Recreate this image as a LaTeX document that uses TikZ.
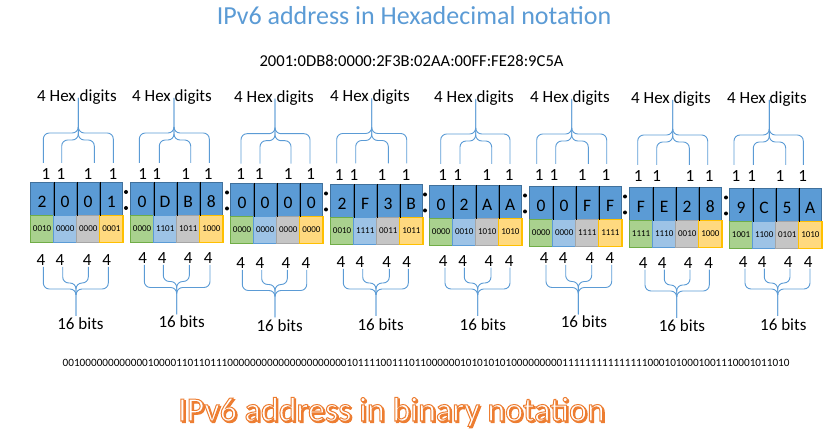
\documentclass[tikz,border=0pt]{standalone}
\usepackage{fontspec}
\setmainfont{Carlito}
\definecolor{titleblue}{HTML}{5B9BD5}
\definecolor{hexblue}{HTML}{5B9BD5}
\definecolor{hexborder}{HTML}{41719C}
\definecolor{braceblue}{HTML}{5B9BD5}
\definecolor{gfill}{HTML}{A9D18E}
\definecolor{gdraw}{HTML}{70AD47}
\definecolor{bfill}{HTML}{9DC3E6}
\definecolor{bdraw}{HTML}{5B9BD5}
\definecolor{sfill}{HTML}{C5C5C5}
\definecolor{sdraw}{HTML}{A5A5A5}
\definecolor{yfill}{HTML}{FFD97F}
\definecolor{ydraw}{HTML}{FFC000}
\definecolor{orangetxt}{HTML}{ED7D31}
\newcommand\outlinetext[1]{\special{pdf:literal direct 2 Tr 1 w 0.929 0.490 0.192 RG}#1\special{pdf:literal direct 0 Tr}}
\begin{document}
\begin{tikzpicture}[x=1pt,y=-1pt,
  lbl/.style={inner sep=0pt, anchor=base, font=\fontsize{17}{20}\selectfont},
  brace/.style={draw=braceblue, line width=0.9pt, rounded corners=6pt},
  hexcell/.style={draw=hexborder, fill=hexblue, line width=0.8pt, minimum width=23.1pt,
    minimum height=33pt, inner sep=0pt, anchor=north west,
    font=\fontsize{17.5}{20}\selectfont, text height=17pt, text depth=0pt},
  bincell/.style={line width=1.1pt, minimum width=23.1pt, minimum height=27pt,
    inner sep=0pt, anchor=north west, font=\fontsize{9}{10}\selectfont},
  b1/.style={draw=gdraw, fill=gfill},
  b2/.style={draw=bdraw, fill=bfill},
  b3/.style={draw=sdraw, fill=sfill},
  b4/.style={draw=ydraw, fill=yfill},
  bigtitle/.style={inner sep=0pt, anchor=base, font=\fontsize{26}{30}\selectfont, text=titleblue},
  bintitle/.style={inner sep=0pt, anchor=base, font=\fontsize{34}{38}\selectfont}
]
\useasboundingbox (0,0) rectangle (836,446);

% titles and strings
\node[bigtitle] (title) at (414,25) {IPv6 address in Hexadecimal notation};
\node[inner sep=0pt, anchor=base, font=\fontsize{16.6}{19}\selectfont] (addr) at (411.5,66.5)
  {2001:0DB8:0000:2F3B:02AA:00FF:FE28:9C5A};
\node[inner sep=0pt, anchor=base, font=\fontsize{11.2}{13}\selectfont] (binline) at (426,366.5)
  {0010000000000001%
0000110110111000%
0000000000000000%
0010111100111011%
0000001010101010%
0000000011111111%
1111111000101000%
1001110001011010};

% cell groups
\foreach \g/\x/\y/\hx in {
  1/30/182/{2/0010,0/0000,0/0000,1/0001},
  2/130/182/{0/0000,D/1101,B/1011,8/1000},
  3/230/183/{0/0000,0/0000,0/0000,0/0000},
  4/330/184/{2/0010,F/1111,3/0011,B/1011},
  5/429/185/{0/0000,2/0010,A/1010,A/1010},
  6/529/186/{0/0000,0/0000,F/1111,F/1111},
  7/629/187/{F/1111,E/1110,2/0010,8/1000},
  8/729/188/{9/1001,C/1100,5/0101,A/1010}} {
  \foreach \h/\bb [count=\k] in \hx {
    \node[hexcell] (h\g-\k) at ({\x+(\k-1)*23.1},\y) {\h};
    \node[bincell, b\k] (c\g-\k) at ({\x+(\k-1)*23.1},{\y+33}) {\bb};
  }
  \foreach \k in {1,2,3}
    \draw[black, line width=0.8pt] (h\g-\k.north east) -- (h\g-\k.south east);
}

% colons
\foreach \cx/\cy in {126/182, 227/182.5, 326/183.5, 425/184.5, 525/185.5, 625/186.5, 726/187.5} {
  \fill[black] (\cx,{\cy+10}) circle (2pt);
  \fill[black] (\cx,{\cy+26}) circle (2pt);
}

% top braces
\foreach \g/\sx/\ea/\eb/\ec/\ed/\dt/\lx in {
  1/78.3/43.3/61.7/94.3/113.3/0/77,
  2/174/139.3/159.3/190.7/209.3/0/172,
  3/275/241/260/291/310/0.7/274,
  4/371.7/336.7/355.7/388.3/406.7/0.5/370,
  5/475.7/440.7/460/491.7/510/1/474,
  6/571.7/536.7/555.7/588.3/606.7/1/570,
  7/672.7/637.7/656.7/689.3/707.7/2/671,
  8/769.3/734/753.3/785.7/803.3/2/767} {
  \node[lbl] (hx\g) at (\lx,{101.5+\dt}) {4 Hex digits};
  \coordinate (ts\g) at (\sx,{98+\dt});
  \draw[brace] (\ea,{163+\dt}) |- (\sx,{133+\dt}) -- (ts\g);
  \draw[brace] (\ed,{163+\dt}) |- (\sx,{133+\dt}) -- (ts\g);
  \draw[brace] (\eb,{163+\dt}) |- (\sx,{140+\dt}) -- (\sx,{127+\dt});
  \draw[brace] (\ec,{163+\dt}) |- (\sx,{140+\dt}) -- (\sx,{127+\dt});
}

% "1" labels
\foreach \g/\dt/\la/\lb/\lc/\ld in {
  1/0/46/61/88/113,
  2/0/142.7/156.7/185.7/208.3,
  3/0/240.7/259.3/288.3/310.7,
  4/0.5/339.3/354/382/406,
  5/0.5/442.7/457.7/486.7/509.3,
  6/1/539.3/554/582.3/606,
  7/1.5/638.3/656.7/690/709.3,
  8/1.5/736/751.7/780/802.7} {
  \foreach \v [count=\k] in {\la,\lb,\lc,\ld}
    \node[lbl] (one\g-\k) at (\v,{180+\dt}) {1};
}

% bottom braces
\foreach \g/\sx/\ea/\eb/\ec/\ed/\fa/\fb/\fc/\fd/\yf/\dd/\bx/\by in {
  1/76/43.3/62.7/88.3/108.3/41/60/87.3/106.7/260/0/80.5/325,
  2/176.7/144.3/163.3/189.3/210/142.7/162.3/188.3/208.3/258/-1.5/181.7/323,
  3/275/242.3/261.7/287.3/306.7/240.7/260/286/306/263/1.5/279.7/327,
  4/376/343.3/362.7/389.3/408.3/341/360/386.7/406.7/262/0/380.7/326,
  5/477.7/445/464.3/491/510/443.3/462.7/489/509.3/260.7/0/482.8/326,
  6/578.3/546/565.7/591.7/611.7/544.3/563.3/590/610/258/-1.5/584/323,
  7/676.7/645/664.3/690/709.3/643.3/662.3/688.3/708.7/262.7/2/682/327,
  8/777.7/745/764.3/790/810/743.3/762.3/788.3/808.3/261.7/0/783.3/326} {
  \foreach \v [count=\k] in {\fa,\fb,\fc,\fd}
    \node[lbl] (four\g-\k) at (\v,{\yf+5.5}) {4};
  \node[lbl] (bits\g) at (\bx,{\by+5}) {16 bits};
  \coordinate (bs\g) at (\sx,{316+\dd});
  \draw[brace] (\ea,{\yf+7}) |- (\sx,{289+\dd}) -- (bs\g);
  \draw[brace] (\ed,{\yf+7}) |- (\sx,{289+\dd}) -- (bs\g);
  \draw[brace] (\eb,{\yf+7}) |- (\sx,{283+\dd}) -- (\sx,{295+\dd});
  \draw[brace] (\ec,{\yf+7}) |- (\sx,{283+\dd}) -- (\sx,{295+\dd});
}

% outlined bottom title with soft shadow
\node[bintitle, text=orangetxt] (binshadow) at (393,422.5) {\outlinetext{IPv6 address in binary notation}};
\node[bintitle, text=white] (bintitle) at (391.5,421) {\outlinetext{IPv6 address in binary notation}};
\end{tikzpicture}
\end{document}
